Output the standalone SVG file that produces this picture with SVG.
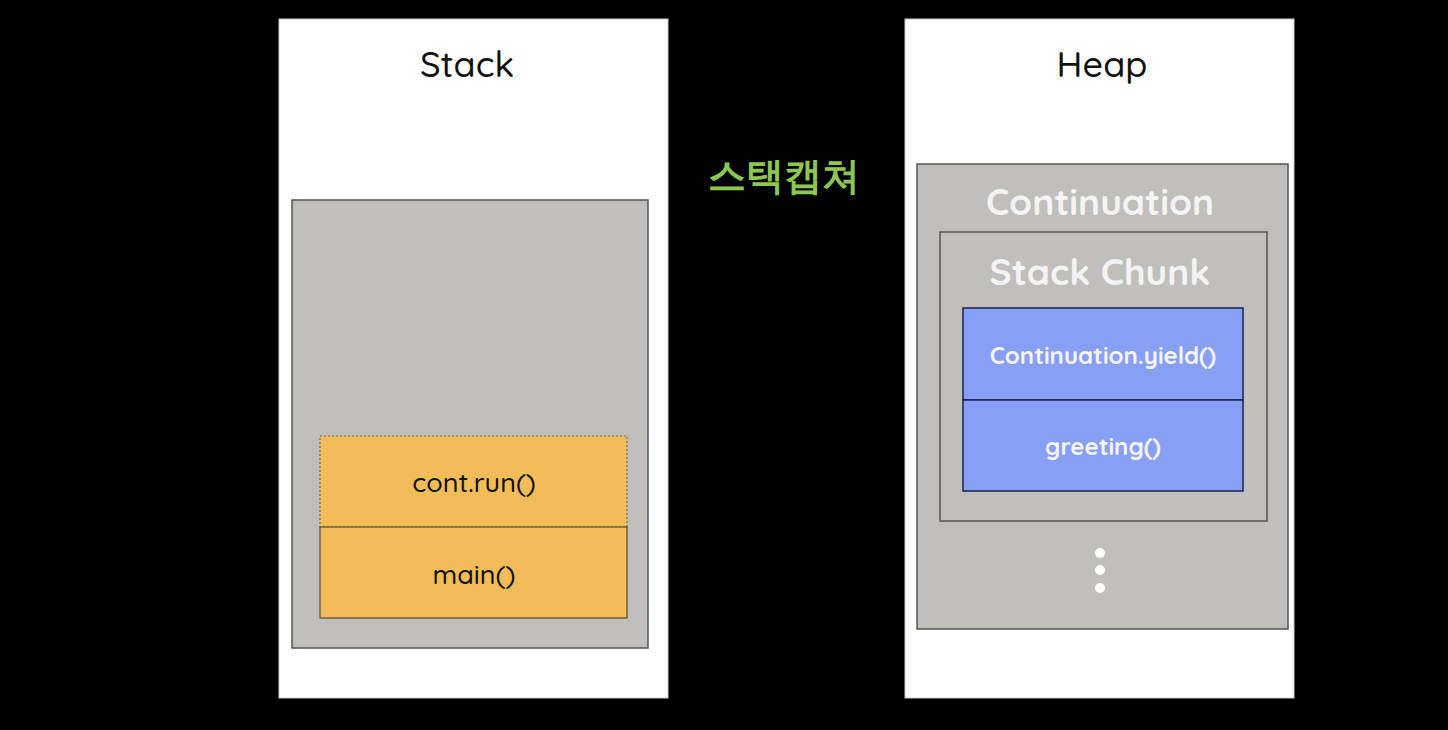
<svg xmlns="http://www.w3.org/2000/svg" width="1448" height="730" viewBox="0 0 1448 730">
<style>
.panel{fill:#ffffff;stroke:#cccccc;stroke-width:1}
.gray{fill:#c0bfbb;stroke:#555555;stroke-width:1.5}
.frame{fill:#f2bd58;stroke:#5a4a2a;stroke-width:1.2}
.blue{fill:#87a0f5;stroke:#1a2250;stroke-width:1.5}
text{font-family:"Quicksand","Comfortaa","Noto Sans","Liberation Sans",sans-serif;text-anchor:middle;dominant-baseline:central;font-weight:600}
.title{font-size:36px;fill:#111111;font-weight:500}
.lbl{font-size:27px;fill:#111111;font-weight:500}
.wt{font-size:37px;fill:#f4f4f4;font-weight:700}
.wb{font-size:24px;fill:#f4f4f4;font-weight:700}
</style>
<rect width="1448" height="730" fill="#000000"/>
<g id="stack">
<rect class="panel" x="279" y="19" width="389" height="679"/>
<text class="title" x="467" y="63">Stack</text>
<rect class="gray" x="292" y="200" width="356" height="448"/>
</g>
<g id="cont-run">
<rect x="320" y="436" width="307" height="91" fill="#f2bd58" stroke="#6a6a6a" stroke-width="1.2" stroke-dasharray="2 2"/>
<text class="lbl" x="474" y="482">cont.run()</text>
</g>
<g id="main">
<rect class="frame" x="320" y="527" width="307" height="91"/>
<text class="lbl" x="474" y="574">main()</text>
</g>
<g id="caption">
<text x="784" y="175" font-family="'Noto Sans CJK KR',sans-serif" font-size="38" font-weight="bold" fill="#8dc653">스택캡쳐</text>
</g>
<g id="heap">
<rect class="panel" x="905" y="19" width="389" height="679"/>
<text class="title" x="1102" y="63">Heap</text>
</g>
<g id="continuation">
<rect class="gray" x="917" y="164" width="371" height="465"/>
<text class="wt" x="1100" y="201">Continuation</text>
</g>
<g id="stack-chunk">
<rect class="gray" x="940" y="232" width="327" height="289"/>
<text class="wt" x="1100" y="271">Stack Chunk</text>
</g>
<g id="yield">
<rect class="blue" x="963" y="308" width="280" height="92"/>
<text class="wb" x="1103" y="355">Continuation.yield()</text>
</g>
<g id="greeting">
<rect class="blue" x="963" y="400" width="280" height="91"/>
<text class="wb" x="1103" y="446">greeting()</text>
</g>
<g id="ellipsis" fill="#ffffff">
<circle cx="1100" cy="553" r="5"/>
<circle cx="1100" cy="570" r="5"/>
<circle cx="1100" cy="588" r="5"/>
</g>
<g id="connectors"/>
</svg>
